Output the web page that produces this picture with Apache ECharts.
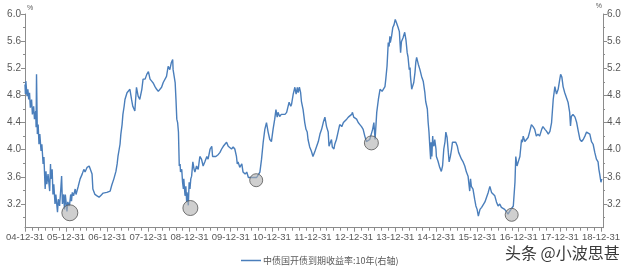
<!DOCTYPE html>
<html><head><meta charset="utf-8">
<script src="https://cdn.jsdelivr.net/npm/echarts@6/dist/echarts.min.js"></script>
<style>html,body{margin:0;padding:0;background:#fff}#c{width:627px;height:269px}</style>
</head><body><div id="c"></div>
<script>
// ---- DATA ----
const seriesName = '中债国开债到期收益率:10年(右轴)';
// decimal year (2005.00 = 2004-12-31)
const years = [
2005.00,2005.01,2005.02,2005.05,2005.07,2005.09,2005.11,2005.13,2005.16,2005.18,2005.21,2005.23,2005.26,2005.27,2005.28,2005.30,2005.32,2005.34,2005.36,2005.39,
2005.41,2005.44,2005.46,2005.49,2005.51,2005.53,2005.56,2005.60,2005.62,2005.63,2005.66,2005.68,2005.70,2005.73,2005.75,2005.79,2005.81,2005.84,2005.87,2005.89,
2005.91,2005.94,2005.96,2005.98,2006.02,2006.04,2006.08,2006.11,2006.13,2006.15,2006.18,2006.22,2006.24,2006.29,2006.34,2006.39,2006.43,2006.46,2006.51,2006.56,
2006.60,2006.63,2006.65,2006.70,2006.75,2006.80,2006.85,2006.90,2006.94,2006.99,2007.07,2007.11,2007.16,2007.21,2007.24,2007.26,2007.31,2007.33,2007.36,2007.38,
2007.41,2007.43,2007.48,2007.50,2007.55,2007.59,2007.62,2007.67,2007.71,2007.75,2007.79,2007.84,2007.87,2007.92,2007.96,2008.00,2008.04,2008.08,2008.12,2008.16,
2008.20,2008.24,2008.28,2008.32,2008.36,2008.40,2008.44,2008.48,2008.52,2008.56,2008.59,2008.60,2008.65,2008.67,2008.69,2008.71,2008.73,2008.74,2008.75,2008.77,
2008.78,2008.81,2008.83,2008.85,2008.86,2008.89,2008.91,2008.93,2008.94,2008.97,2008.99,2009.01,2009.03,2009.05,2009.08,2009.11,2009.13,2009.17,2009.21,2009.25,
2009.29,2009.33,2009.37,2009.42,2009.45,2009.50,2009.54,2009.56,2009.59,2009.64,2009.70,2009.74,2009.78,2009.82,2009.86,2009.90,2009.94,2009.98,2010.02,2010.06,
2010.10,2010.14,2010.16,2010.18,2010.22,2010.27,2010.30,2010.35,2010.39,2010.43,2010.47,2010.55,2010.63,2010.71,2010.75,2010.79,2010.83,2010.87,2010.91,2010.95,
2010.99,2011.03,2011.07,2011.10,2011.13,2011.15,2011.19,2011.23,2011.27,2011.32,2011.36,2011.40,2011.42,2011.46,2011.48,2011.52,2011.56,2011.59,2011.62,2011.64,
2011.67,2011.70,2011.72,2011.76,2011.80,2011.83,2011.86,2011.88,2011.92,2011.96,2012.00,2012.05,2012.09,2012.13,2012.17,2012.21,2012.25,2012.29,2012.33,2012.37,
2012.39,2012.43,2012.45,2012.47,2012.51,2012.53,2012.57,2012.61,2012.65,2012.70,2012.74,2012.78,2012.82,2012.86,2012.90,2012.94,2012.96,2012.99,2013.06,2013.10,
2013.14,2013.18,2013.22,2013.26,2013.30,2013.34,2013.38,2013.45,2013.48,2013.51,2013.55,2013.59,2013.63,2013.68,2013.72,2013.75,2013.77,2013.80,2013.83,2013.85,
2013.87,2013.88,2013.91,2013.94,2013.97,2014.00,2014.03,2014.07,2014.10,2014.13,2014.15,2014.19,2014.23,2014.26,2014.29,2014.31,2014.34,2014.36,2014.37,2014.40,
2014.42,2014.45,2014.48,2014.50,2014.52,2014.56,2014.60,2014.64,2014.68,2014.72,2014.74,2014.78,2014.80,2014.82,2014.84,2014.86,2014.87,2014.89,2014.91,2014.92,
2014.94,2014.96,2014.99,2015.00,2015.04,2015.08,2015.12,2015.15,2015.18,2015.21,2015.23,2015.26,2015.29,2015.31,2015.34,2015.37,2015.39,2015.42,2015.47,2015.51,
2015.54,2015.57,2015.61,2015.65,2015.69,2015.73,2015.77,2015.81,2015.83,2015.85,2015.89,2015.93,2015.96,2015.99,2016.02,2016.06,2016.10,2016.14,2016.18,2016.22,
2016.26,2016.30,2016.34,2016.38,2016.42,2016.46,2016.50,2016.54,2016.58,2016.62,2016.66,2016.71,2016.74,2016.78,2016.87,2016.91,2016.93,2016.96,2016.99,2017.03,
2017.07,2017.09,2017.11,2017.15,2017.19,2017.23,2017.27,2017.31,2017.35,2017.39,2017.43,2017.47,2017.51,2017.56,2017.59,2017.64,2017.68,2017.72,2017.76,2017.80,
2017.84,2017.88,2017.92,2017.96,2018.00,2018.02,2018.05,2018.08,2018.12,2018.16,2018.20,2018.24,2018.26,2018.28,2018.32,2018.37,2018.41,2018.45,2018.49,2018.53,
2018.57,2018.61,2018.65,2018.69,2018.73,2018.77,2018.81,2018.85,2018.89,2018.93,2018.95,2018.97,2019.00,2019.02
];
const yields = [
4.96,4.82,5.01,4.79,4.89,4.74,4.84,4.62,4.74,4.52,4.64,4.45,4.57,4.33,5.11,4.23,4.37,4.08,4.23,3.98,
4.08,3.79,3.89,3.42,3.68,3.49,3.64,3.39,3.79,3.57,3.71,3.34,3.49,3.20,3.34,3.08,3.27,3.17,3.42,3.61,
3.20,3.34,3.12,3.34,3.09,3.23,3.17,3.34,3.24,3.37,3.32,3.42,3.34,3.45,3.57,3.64,3.71,3.67,3.74,3.76,
3.76,3.64,3.42,3.34,3.32,3.30,3.33,3.36,3.34,3.37,3.39,3.48,3.57,3.68,3.79,3.90,4.08,4.23,4.37,4.52,
4.64,4.74,4.84,4.86,4.89,4.74,4.64,4.57,4.92,4.79,4.74,4.89,5.04,5.04,5.11,5.15,5.04,5.01,4.98,4.93,
4.89,4.86,4.86,4.92,4.99,4.99,5.08,5.23,5.18,5.29,5.33,5.18,4.99,4.74,4.45,4.40,4.26,4.01,3.76,3.79,
3.67,3.71,3.52,3.42,3.57,3.32,3.46,3.23,3.37,3.18,3.52,3.42,3.57,3.61,3.82,3.71,3.67,3.76,3.71,3.90,
3.86,3.76,3.82,3.90,3.86,4.01,4.05,3.90,3.89,3.90,3.93,3.96,4.01,4.05,4.08,4.11,4.05,4.05,4.01,4.04,
4.01,3.90,3.79,3.82,3.74,3.79,3.67,3.64,3.67,3.59,3.61,3.59,3.59,3.67,3.86,4.11,4.30,4.40,4.26,4.15,
4.12,4.30,4.45,4.59,4.48,4.55,4.49,4.52,4.52,4.52,4.55,4.57,4.70,4.64,4.67,4.82,4.92,4.82,4.92,4.84,
4.92,4.84,4.71,4.59,4.40,4.30,4.26,4.15,4.04,3.98,3.90,3.98,4.05,4.12,4.23,4.30,4.40,4.48,4.34,4.26,
4.05,4.12,4.15,4.04,4.01,4.08,4.15,4.26,4.37,4.34,4.40,4.42,4.45,4.48,4.49,4.52,4.55,4.48,4.45,4.40,
4.37,4.34,4.30,4.20,4.12,4.11,4.15,4.30,4.40,4.15,4.55,4.74,4.89,4.86,4.86,4.93,5.04,5.23,5.58,5.52,
5.67,5.58,5.67,5.80,5.84,5.92,5.87,5.80,5.74,5.43,5.59,5.65,5.73,5.62,5.43,5.37,5.18,5.21,5.08,4.89,
4.93,4.99,5.14,5.29,5.36,5.26,5.18,5.08,5.01,4.84,4.71,4.60,4.40,4.26,4.05,3.86,4.11,3.90,4.20,4.11,
4.05,4.15,4.01,3.90,3.83,3.74,3.68,3.76,4.01,4.12,4.26,4.18,3.96,3.82,3.90,4.01,4.11,4.12,4.11,4.05,
3.96,3.96,3.86,3.82,3.76,3.67,3.61,3.39,3.57,3.46,3.42,3.27,3.17,3.12,3.02,3.12,3.15,3.17,3.23,3.24,
3.37,3.46,3.37,3.35,3.32,3.23,3.17,3.20,3.15,3.17,3.12,3.08,3.05,3.09,3.17,3.52,3.90,3.76,3.82,3.90,
4.15,4.11,4.20,4.12,4.11,4.18,4.27,4.37,4.34,4.30,4.20,4.23,4.20,4.30,4.34,4.30,4.27,4.23,4.27,4.40,
4.74,4.93,4.82,4.89,5.04,5.11,5.07,4.93,4.84,4.82,4.70,4.55,4.35,4.49,4.52,4.48,4.40,4.27,4.15,4.12,
4.15,4.20,4.26,4.27,4.23,4.12,4.08,3.96,3.86,3.82,3.71,3.64,3.52,3.57
];
// highlighted lows (grey circles)
const markYears = [2006.09, 2009.02, 2010.62, 2013.42, 2016.83];
const markYields = [3.07, 3.14, 3.55, 4.10, 3.04];
// axis ticks
const yLabelValues = [3.2, 3.6, 4.0, 4.4, 4.8, 5.2, 5.6, 6.0];
const yMinorValues = [3.0, 3.4, 3.8, 4.2, 4.6, 5.0, 5.4, 5.8];
const xLabelYears = [2005,2006,2007,2008,2009,2010,2011,2012,2013,2014,2015,2016,2017,2018,2019];

// ---- STYLE / LAYOUT ----
const circleSizes = [16, 15, 13, 14, 13];
const X_MIN = 2005, X_MAX = 2019.05, Y_MIN = 2.85, Y_MAX = 6.0;
const AXIS_COLOR = '#8c8c8c', LABEL_COLOR = '#595959', LINE_COLOR = '#4a7ebb';
const FONT = '"Liberation Sans", "Noto Sans", sans-serif';

const xMinor = [];
for (let k = 0; X_MIN + k / 6 <= X_MAX + 1e-9; k++) xMinor.push(X_MIN + k / 6);

const lineData = years.map((y, i) => [y, yields[i]]);
const markData = markYears.map((y, i) => ({ value: [y, markYields[i]], symbolSize: circleSizes[i] }));

function yAxisCfg(pos, major) {
  return {
    type: 'value', position: pos, min: Y_MIN, max: Y_MAX,
    splitLine: { show: false },
    axisLine: { show: major, lineStyle: { color: AXIS_COLOR, width: 1 } },
    axisTick: { show: true, customValues: major ? yLabelValues : yMinorValues, length: major ? 4 : 2, lineStyle: { color: AXIS_COLOR } },
    axisLabel: major ? { show: true, customValues: yLabelValues, margin: 4, color: LABEL_COLOR, fontSize: 10, fontFamily: FONT, formatter: v => v.toFixed(1) } : { show: false },
    name: major ? '%' : '', nameLocation: 'end', nameGap: 2,
    nameTextStyle: { fontSize: 7, color: LABEL_COLOR, align: pos === 'left' ? 'left' : 'right', padding: pos === 'left' ? [0,0,0,2] : [0,1,0,0] }
  };
}
function xAxisCfg(major) {
  return {
    type: 'value', position: 'bottom', min: X_MIN, max: X_MAX,
    splitLine: { show: false },
    axisLine: { show: major, onZero: false, lineStyle: { color: AXIS_COLOR, width: 1 } },
    axisTick: { show: true, customValues: major ? xLabelYears : xMinor, length: major ? 4 : 3, lineStyle: { color: AXIS_COLOR } },
    axisLabel: major ? { show: true, customValues: xLabelYears, margin: 5, color: LABEL_COLOR, fontSize: 9.5, fontFamily: FONT,
      formatter: v => String(Math.round(v) - 1).slice(2) + '-12-31' } : { show: false }
  };
}

const chart = echarts.init(document.getElementById('c'), null, { renderer: 'canvas' });
chart.setOption({
  animation: false,
  backgroundColor: '#fff',
  grid: { left: 25, right: 24, top: 14, bottom: 41.3, containLabel: false },
  xAxis: [xAxisCfg(true), xAxisCfg(false)],
  yAxis: [yAxisCfg('left', true), yAxisCfg('left', false), yAxisCfg('right', true), yAxisCfg('right', false)],
  legend: {
    data: [{ name: seriesName, icon: 'rect' }],
    left: 236, top: 251, itemWidth: 20, itemHeight: 1.5, itemGap: 4,
    textStyle: { fontSize: 9, color: LABEL_COLOR, fontFamily: '"Noto Sans CJK SC", sans-serif', padding: [0, 0, 0, -3] }
  },
  series: [
    { name: seriesName, type: 'line', xAxisIndex: 0, yAxisIndex: 2, data: lineData, showSymbol: false, symbol: 'none',
      lineStyle: { color: LINE_COLOR, width: 1.4 }, itemStyle: { color: LINE_COLOR }, z: 2 },
    { name: 'lows', type: 'scatter', xAxisIndex: 0, yAxisIndex: 2, data: markData, symbol: 'circle',
      itemStyle: { color: 'rgba(175,175,175,0.75)', borderColor: '#555', borderWidth: 1 }, z: 3 }
  ],
  graphic: [{
    type: 'text', left: 504, top: 244, z: 100,
    style: { text: '头条 @小波思甚', font: '16px "Noto Sans CJK SC"', fill: '#3a3a3a', stroke: 'rgba(255,255,255,0.9)', lineWidth: 2 }
  }]
});
</script></body></html>
